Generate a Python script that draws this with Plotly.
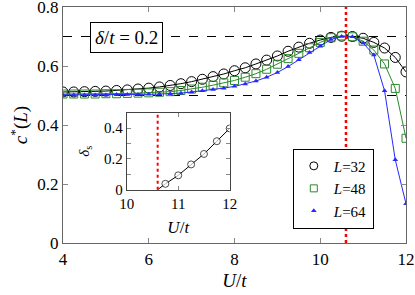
import plotly.graph_objects as go

U = [4.0, 4.25, 4.5, 4.75, 5.0, 5.25, 5.5, 5.75, 6.0, 6.25, 6.5, 6.75, 7.0, 7.25, 7.5, 7.75,
     8.0, 8.25, 8.5, 8.75, 9.0, 9.25, 9.5, 9.75, 10.0, 10.25, 10.5, 10.75, 11.0, 11.25, 11.5, 11.75, 12.0]
c_L32 = [0.512, 0.512, 0.513, 0.514, 0.515, 0.517, 0.519, 0.522, 0.525, 0.529, 0.534, 0.540, 0.547,
         0.555, 0.564, 0.573, 0.584, 0.594, 0.607, 0.620, 0.634, 0.650, 0.664, 0.677, 0.688, 0.697,
         0.701, 0.700, 0.694, 0.680, 0.661, 0.629, 0.580]
c_L48 = [0.505, 0.505, 0.505, 0.505, 0.506, 0.506, 0.507, 0.508, 0.509, 0.511, 0.513, 0.517, 0.522,
         0.528, 0.535, 0.543, 0.551, 0.562, 0.574, 0.589, 0.606, 0.625, 0.643, 0.662, 0.680, 0.696,
         0.702, 0.699, 0.684, 0.654, 0.607, 0.524, 0.355]
c_L64 = [0.502, 0.502, 0.502, 0.502, 0.502, 0.503, 0.503, 0.503, 0.504, 0.505, 0.506, 0.508, 0.512,
         0.516, 0.520, 0.525, 0.531, 0.539, 0.549, 0.562, 0.578, 0.598, 0.621, 0.646, 0.667, 0.690,
         0.700, 0.699, 0.678, 0.637, 0.516, 0.282, 0.133]

U_inset = [10.6, 10.75, 11.0, 11.25, 11.5, 11.75, 12.0]
delta_s = [0.0, 0.038, 0.093, 0.164, 0.232, 0.315, 0.398]

U_c = 10.6
delta_t = 0.2

FONT = "Liberation Serif"
GREEN = "#2b8a2b"
BLUE = "#2828ff"

fig = go.Figure()

fig.add_trace(go.Scatter(x=U, y=c_L32, mode="lines+markers", showlegend=False,
                         line=dict(color="black", width=1),
                         marker=dict(symbol="circle-open", size=10, color="black", line=dict(width=1))))
fig.add_trace(go.Scatter(x=U, y=c_L48, mode="lines+markers", showlegend=False,
                         line=dict(color=GREEN, width=1),
                         marker=dict(symbol="square-open", size=8, color=GREEN, line=dict(width=1))))
fig.add_trace(go.Scatter(x=U, y=c_L64, mode="lines+markers", showlegend=False,
                         line=dict(color=BLUE, width=1),
                         marker=dict(symbol="triangle-up", size=5, color=BLUE)))

# legend entries (markers only)
fig.add_trace(go.Scatter(x=[None], y=[None], mode="markers", name="<i>L</i>=32",
                         marker=dict(symbol="circle-open", size=8, color="black", line=dict(width=1))))
fig.add_trace(go.Scatter(x=[None], y=[None], mode="markers", name="<i>L</i>=48",
                         marker=dict(symbol="square-open", size=7, color=GREEN, line=dict(width=1))))
fig.add_trace(go.Scatter(x=[None], y=[None], mode="markers", name="<i>L</i>=64",
                         marker=dict(symbol="triangle-up", size=5, color=BLUE)))

# inset
fig.add_trace(go.Scatter(x=U_inset, y=delta_s, mode="lines+markers", showlegend=False,
                         xaxis="x2", yaxis="y2",
                         line=dict(color="black", width=1),
                         marker=dict(symbol="circle", size=[0, 7, 7, 7, 7, 7, 7], color="white",
                                     line=dict(width=1, color="black"))))

axis_common = dict(showgrid=False, zeroline=False, showline=True, mirror="ticks", automargin=False,
                   ticks="inside", ticklen=5, tickcolor="#888", linecolor="#666", linewidth=1.2,
                   ticklabeloverflow="allow",
                   tickfont=dict(family=FONT, size=17, color="black"))

inset_common = dict(showgrid=False, zeroline=False, showline=True, mirror="ticks", automargin=False,
                    ticks="inside", ticklen=4, tickcolor="#888", linecolor="#444", linewidth=1,
                    ticklabeloverflow="allow",
                    tickfont=dict(family=FONT, size=15, color="black"))

fig.update_layout(
    width=415, height=295,
    margin=dict(l=63, r=9, t=7, b=52, autoexpand=False),
    paper_bgcolor="white", plot_bgcolor="white",
    font=dict(family=FONT, color="black"),
    xaxis=dict(range=[4, 12], tickvals=[4, 6, 8, 10, 12], ticktext=["4", "6", "8", "10", "12"],
               title=dict(text="<i>U</i>/<i>t</i>", font=dict(family=FONT, size=19), standoff=6),
               domain=[0, 1], **axis_common),
    yaxis=dict(range=[0, 0.8], tickvals=[0, 0.2, 0.4, 0.6, 0.8], ticktext=["0", "0.2", "0.4", "0.6", "0.8"],
               title=dict(text="<i>c</i><sup>*</sup>(<i>L</i>)", font=dict(family=FONT, size=19), standoff=4),
               domain=[0, 1], **axis_common),
    xaxis2=dict(range=[10, 12], tickvals=[10, 11, 12], ticktext=["10", "11", "12"],
                anchor="y2", domain=[0.186, 0.486],
                title=dict(text="<i>U</i>/<i>t</i>", font=dict(family=FONT, size=17), standoff=10),
                **inset_common),
    yaxis2=dict(range=[0, 0.5], tickvals=[0, 0.2, 0.4], ticktext=["0", "0.2", "0.4"],
                anchor="x2", domain=[0.226, 0.552],
                minor=dict(tickvals=[0.1, 0.3], ticks="inside", ticklen=4, tickcolor="#888"),
                title=dict(text="<i>δ</i><sub>s</sub>", font=dict(family=FONT, size=15), standoff=10),
                **inset_common),
    legend=dict(x=0.67, y=0.40, xanchor="left", yanchor="top",
                bgcolor="white", bordercolor="black", borderwidth=1,
                font=dict(family=FONT, size=15, color="black"),
                itemwidth=30, tracegroupgap=0),
    showlegend=True,
)

shapes = [
    dict(type="line", xref="paper", yref="y", x0=0, x1=1, y0=0.7, y1=0.7,
         line=dict(color="black", width=1, dash="dash"), layer="below"),
    dict(type="line", xref="paper", yref="y", x0=0, x1=1, y0=0.5, y1=0.5,
         line=dict(color="black", width=1, dash="dash"), layer="below"),
    dict(type="line", xref="x", yref="paper", x0=U_c, x1=U_c, y0=0, y1=1,
         line=dict(color="red", width=2.5, dash="dot")),
    dict(type="line", xref="x2", yref="y2 domain", x0=U_c, x1=U_c, y0=0, y1=1,
         line=dict(color="red", width=2, dash="dot")),
]
fig.update_layout(shapes=shapes)

fig.add_annotation(x=5.48, y=0.695, xref="x", yref="y",
                   text=f"<i>δ</i>/<i>t</i> = {delta_t}", showarrow=False,
                   font=dict(family=FONT, size=19, color="black"),
                   bgcolor="white", bordercolor="black", borderwidth=1, borderpad=4)

fig.write_html("out.html",
               config={"displayModeBar": False},
               post_script="document.body.style.margin='0';document.body.style.overflow='hidden';")
